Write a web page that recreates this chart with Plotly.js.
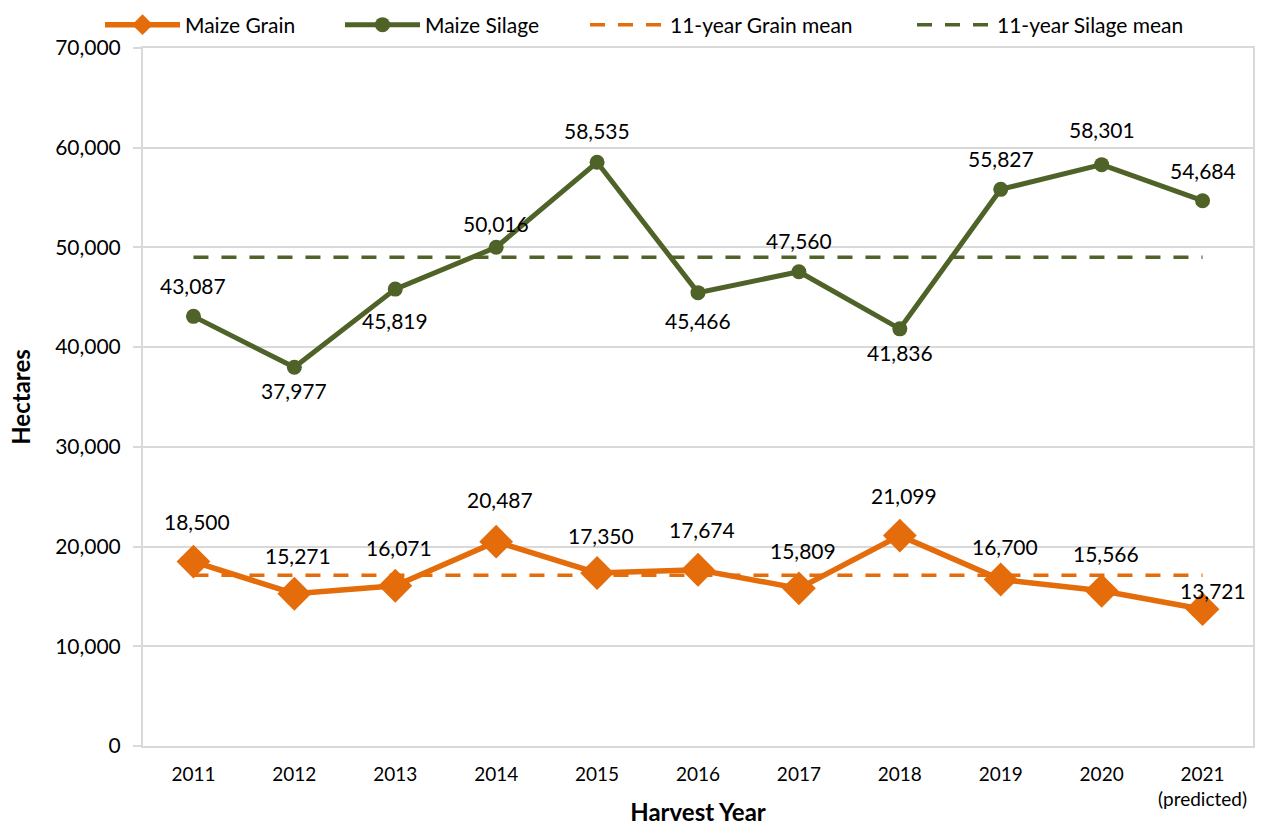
<!DOCTYPE html>
<html>
<head>
<meta charset="utf-8">
<script src="https://cdn.plot.ly/plotly-3.0.1.min.js"></script>
<style>
  html, body { margin: 0; padding: 0; background: #fff; }
  #chart { width: 1261px; height: 826px; }
</style>
</head>
<body>
<div id="chart"></div>
<script>
// harvest years (2021 is a forecast)
const years = ['2011', '2012', '2013', '2014', '2015', '2016', '2017', '2018', '2019', '2020', '2021'];
const yearLabels = ['2011', '2012', '2013', '2014', '2015', '2016', '2017', '2018', '2019', '2020', '2021<br>(predicted)'];

// hectares
const grain = [18500, 15271, 16071, 20487, 17350, 17674, 15809, 21099, 16700, 15566, 13721];
const silage = [43087, 37977, 45819, 50016, 58535, 45466, 47560, 41836, 55827, 58301, 54684];
const grainMean = [17114, 17114, 17114, 17114, 17114, 17114, 17114, 17114, 17114, 17114, 17114];
const silageMean = [49010, 49010, 49010, 49010, 49010, 49010, 49010, 49010, 49010, 49010, 49010];

const ORANGE = '#E46C0A';
const GREEN = '#4F6228';
const FONT = 'Lato, "Open Sans", sans-serif';

// label offsets in px (positive = above the point, negative = below)
const grainShift = [40, 38, 38, 42, 38, 40, 38, 40, 33, 37, 19];
const silageShift = [31, -23, -31, 24, 32, -28, 31, -24, 31, 35, 30];

const traces = [
    {
        name: 'Maize Grain', x: years, y: grain, type: 'scatter', mode: 'lines+markers',
        legend: 'legend',
        line: { color: ORANGE, width: 5.5 },
        marker: { symbol: 'diamond', size: 26, color: ORANGE }
    },
    {
        name: 'Maize Silage', x: years, y: silage, type: 'scatter', mode: 'lines+markers',
        legend: 'legend2',
        line: { color: GREEN, width: 5 },
        marker: { symbol: 'circle', size: 15, color: GREEN }
    },
    {
        name: '11-year Grain mean', x: years, y: grainMean, type: 'scatter', mode: 'lines',
        legend: 'legend3',
        line: { color: ORANGE, width: 3.5, dash: '15px,13px' }
    },
    {
        name: '11-year Silage mean', x: years, y: silageMean, type: 'scatter', mode: 'lines',
        legend: 'legend4',
        line: { color: GREEN, width: 3.5, dash: '15px,13px' }
    }
];

const fmt = v => v.toLocaleString('en-US');
const annotations = [];

grain.forEach((v, i) => {
    const last = i === grain.length - 1;
    annotations.push({
        xref: 'x', yref: 'y', x: i, y: v, text: fmt(v), showarrow: false,
        xshift: last ? 10 : 4, yshift: grainShift[i],
        font: { family: FONT, size: 21, color: '#000' }
    });
});

silage.forEach((v, i) => {
    annotations.push({
        xref: 'x', yref: 'y', x: i, y: v, text: fmt(v), showarrow: false,
        yshift: silageShift[i],
        font: { family: FONT, size: 21, color: '#000' }
    });
});

// one legend per entry so each can sit where the original puts it
function legendAt(px) {
    return {
        orientation: 'h', x: (px - 143) / 1110, xanchor: 'left',
        y: 1 + (48 - 25) / 698, yanchor: 'middle',
        font: { family: FONT, size: 21, color: '#000' },
        itemwidth: 75, bgcolor: 'rgba(0,0,0,0)'
    };
}

const layout = {
    width: 1261,
    height: 826,
    margin: { l: 143, r: 8, t: 48, b: 80, autoexpand: false },
    paper_bgcolor: '#fff',
    plot_bgcolor: '#fff',
    font: { family: FONT, size: 18, color: '#000' },
    showlegend: true,
    legend: legendAt(100),
    legend2: legendAt(340),
    legend3: legendAt(585),
    legend4: legendAt(912),
    xaxis: {
        type: 'category',
        range: [-0.5, 10.5],
        tickvals: years,
        ticktext: yearLabels,
        tickfont: { family: FONT, size: 19 },
        ticklabelstandoff: 10,
        showgrid: false,
        showline: true, linecolor: '#D9D9D9', linewidth: 2, mirror: true,
        ticks: '', zeroline: false,
        title: { text: '<b>Harvest Year</b>', font: { family: FONT, size: 24 }, standoff: 4 }
    },
    yaxis: {
        range: [0, 70000],
        dtick: 10000,
        tickformat: ',d',
        tickfont: { family: FONT, size: 21 },
        ticklabelstandoff: 8,
        showgrid: true, gridcolor: '#D9D9D9', gridwidth: 2,
        showline: true, linecolor: '#D9D9D9', linewidth: 2, mirror: true,
        ticks: 'outside', ticklen: 8, tickcolor: '#D9D9D9', tickwidth: 2,
        zeroline: false,
        title: { text: '<b>Hectares</b>', font: { family: FONT, size: 24 }, standoff: 18 }
    },
    annotations: annotations
};

Plotly.newPlot('chart', traces, layout, { displayModeBar: false, staticPlot: true });
</script>
</body>
</html>
